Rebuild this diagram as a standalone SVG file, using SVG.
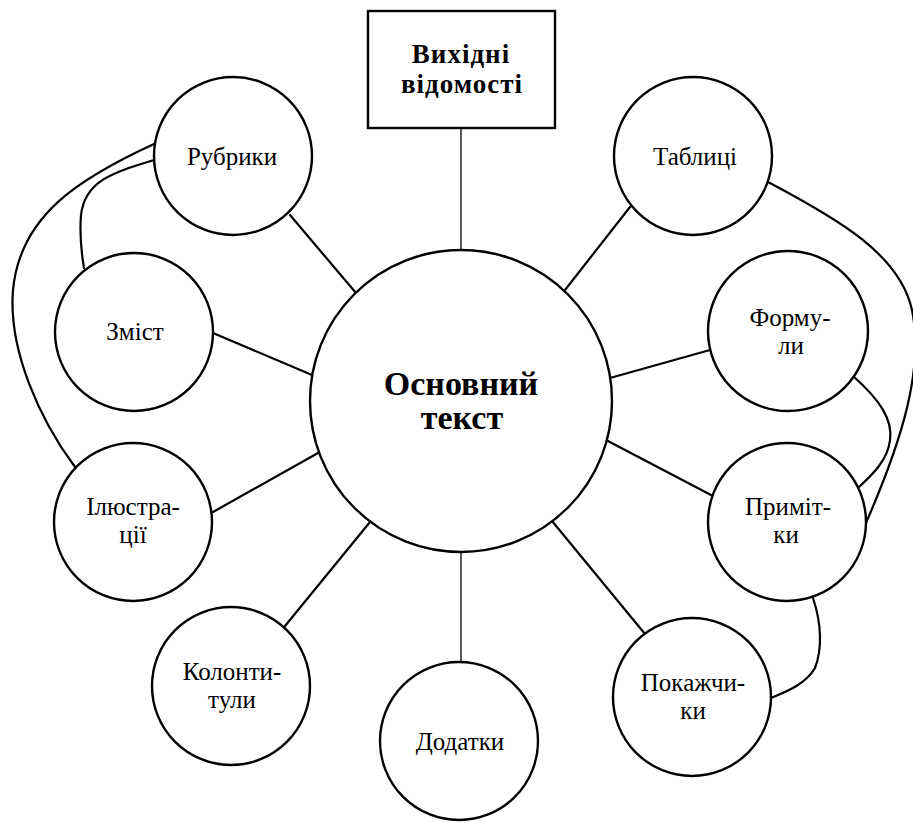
<svg xmlns="http://www.w3.org/2000/svg" width="913" height="823" viewBox="0 0 913 823">
<style>
.n{fill:#fff;stroke:#000;stroke-width:2.4}
.c{fill:none;stroke:#000;stroke-width:2.2;stroke-linecap:round}
.t{fill:none;stroke:#000;stroke-width:1.3}
.l{font-family:"Liberation Serif","Times New Roman",serif;font-size:25px;text-anchor:middle;fill:#000}
.b{font-family:"Liberation Serif","Times New Roman",serif;font-weight:bold;text-anchor:middle;fill:#000}
</style>
<rect width="913" height="823" fill="#fff"/>
<g id="connectors">
<line class="t" x1="461" y1="128" x2="461" y2="250"/>
<line class="t" x1="461" y1="552" x2="461" y2="662"/>
<line class="c" x1="290" y1="215" x2="356" y2="293"/>
<line class="c" x1="213" y1="333" x2="312" y2="375"/>
<line class="c" x1="213" y1="512" x2="318" y2="453"/>
<line class="c" x1="285" y1="626" x2="370" y2="522"/>
<line class="c" x1="630" y1="207" x2="565" y2="290"/>
<line class="c" x1="710" y1="350" x2="610" y2="378"/>
<line class="c" x1="711" y1="495" x2="606" y2="440"/>
<line class="c" x1="645" y1="634" x2="552" y2="521"/>
<path class="c" d="M154,144 C80,178 20,215 13,290 C8,350 40,420 75,467"/>
<path class="c" d="M154,160 C115,172 85,180 81,215 C79,240 82,255 84,268"/>
<path class="c" d="M768,182 C840,220 900,255 912,310 C924,370 902,440 866,523"/>
<path class="c" d="M854,377 C880,400 893,420 890,440 C888,460 872,475 859,487"/>
<path class="c" d="M813,598 C822,625 822,650 815,668 C805,685 785,692 771,698"/>
</g>
<g id="vykhidni">
<rect class="n" x="368" y="11" width="187" height="117"/>
<text class="b" x="461" y="63" font-size="27" letter-spacing="1">Вихідні</text>
<text class="b" x="462" y="93" font-size="27" letter-spacing="1">відомості</text>
</g>
<g id="osnovnyi">
<circle class="n" cx="461" cy="401" r="151"/>
<text class="b" x="461" y="395" font-size="34">Основний</text>
<text class="b" x="462" y="429" font-size="34">текст</text>
</g>
<g id="rubryky">
<circle class="n" cx="233" cy="156" r="79"/>
<text class="l" x="232" y="165">Рубрики</text>
</g>
<g id="tablytsi">
<circle class="n" cx="693" cy="156" r="79"/>
<text class="l" x="695" y="165">Таблиці</text>
</g>
<g id="zmist">
<circle class="n" cx="134" cy="332" r="79"/>
<text class="l" x="135" y="340">Зміст</text>
</g>
<g id="formuly">
<circle class="n" cx="788" cy="331" r="80"/>
<text class="l" x="790" y="326">Форму-</text>
<text class="l" x="791" y="354">ли</text>
</g>
<g id="iliustratsii">
<circle class="n" cx="133" cy="522" r="79"/>
<text class="l" x="133" y="515">Ілюстра-</text>
<text class="l" x="133" y="543">ції</text>
</g>
<g id="prymitky">
<circle class="n" cx="787" cy="522" r="79"/>
<text class="l" x="788" y="515">Примiт-</text>
<text class="l" x="786" y="543">ки</text>
</g>
<g id="kolontytuly">
<circle class="n" cx="231" cy="686" r="79"/>
<text class="l" x="232" y="680">Колонти-</text>
<text class="l" x="232" y="708">тули</text>
</g>
<g id="pokazhchyky">
<circle class="n" cx="692" cy="697" r="79"/>
<text class="l" x="693" y="691">Покажчи-</text>
<text class="l" x="693" y="719">ки</text>
</g>
<g id="dodatky">
<circle class="n" cx="459" cy="741" r="79"/>
<text class="l" x="460" y="750">Додатки</text>
</g>
</svg>
